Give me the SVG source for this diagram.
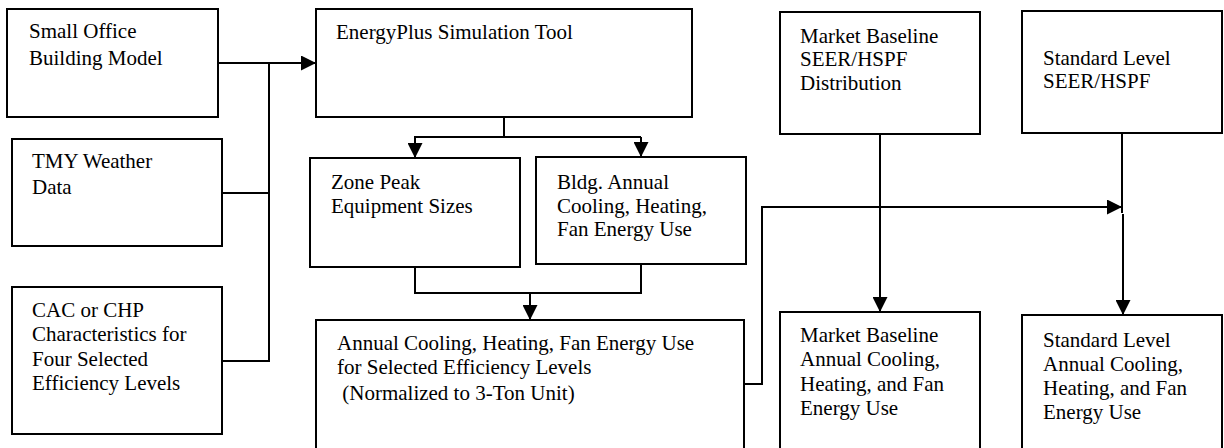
<svg xmlns="http://www.w3.org/2000/svg" width="1224" height="448" viewBox="0 0 1224 448">
<defs>
<marker id="ah" viewBox="0 0 10 10" refX="10" refY="5" markerWidth="7.5" markerHeight="7.5" markerUnits="strokeWidth" orient="auto">
<path d="M0,0 L10,5 L0,10 Z" fill="#000"/>
</marker>
<style>
.box{fill:#fff;stroke:#000;stroke-width:2}
.t{font-family:'Liberation Serif','Times New Roman','DejaVu Serif',serif;font-size:21px;fill:#000}
.c{fill:none;stroke:#000;stroke-width:2}
.a{marker-end:url(#ah)}
</style>
</defs>
<rect width="1224" height="448" fill="#fff"/>
<g id="n1"><rect class="box" x="7" y="9" width="211" height="108"/><text class="t" font-family="Liberation Serif"><tspan x="29" y="38">Small Office</tspan><tspan x="29" y="65">Building Model</tspan></text></g>
<g id="n2"><rect class="box" x="12" y="139" width="210" height="107"/><text class="t"><tspan x="32" y="168">TMY Weather</tspan><tspan x="32" y="194">Data</tspan></text></g>
<g id="n3"><rect class="box" x="12" y="287" width="210" height="147"/><text class="t"><tspan x="32" y="317">CAC or CHP</tspan><tspan x="32" y="341">Characteristics for</tspan><tspan x="32" y="366">Four Selected</tspan><tspan x="32" y="390">Efficiency Levels</tspan></text></g>
<g id="n4"><rect class="box" x="316" y="9" width="376" height="108"/><text class="t" x="336" y="39">EnergyPlus Simulation Tool</text></g>
<g id="n5"><rect class="box" x="310" y="158" width="210" height="109"/><text class="t"><tspan x="331" y="189">Zone Peak</tspan><tspan x="331" y="213">Equipment Sizes</tspan></text></g>
<g id="n6"><rect class="box" x="536" y="157" width="210" height="107"/><text class="t"><tspan x="557" y="189">Bldg. Annual</tspan><tspan x="557" y="213">Cooling, Heating,</tspan><tspan x="557" y="236">Fan Energy Use</tspan></text></g>
<g id="n7"><rect class="box" x="316" y="320" width="428" height="140"/><text class="t"><tspan x="337" y="350">Annual Cooling, Heating, Fan Energy Use</tspan><tspan x="337" y="374">for Selected Efficiency Levels</tspan><tspan x="337" y="400" xml:space="preserve"> (Normalized to 3-Ton Unit)</tspan></text></g>
<g id="n8"><rect class="box" x="780" y="12" width="200" height="122"/><text class="t"><tspan x="800" y="43">Market Baseline</tspan><tspan x="800" y="66">SEER/HSPF</tspan><tspan x="800" y="90">Distribution</tspan></text></g>
<g id="n9"><rect class="box" x="1022" y="11" width="200" height="122"/><text class="t"><tspan x="1043" y="65">Standard Level</tspan><tspan x="1043" y="88">SEER/HSPF</tspan></text></g>
<g id="n10"><rect class="box" x="780" y="312" width="200" height="150"/><text class="t"><tspan x="800" y="342">Market Baseline</tspan><tspan x="800" y="366">Annual Cooling,</tspan><tspan x="800" y="391">Heating, and Fan</tspan><tspan x="800" y="415">Energy Use</tspan></text></g>
<g id="n11"><rect class="box" x="1022" y="315" width="200" height="150"/><text class="t"><tspan x="1043" y="347">Standard Level</tspan><tspan x="1043" y="371">Annual Cooling,</tspan><tspan x="1043" y="395">Heating, and Fan</tspan><tspan x="1043" y="419">Energy Use</tspan></text></g>
<g id="connectors">
<path class="c a" d="M218,63 H316"/>
<path class="c" d="M222,193 H269 M222,361 H269 V63"/>
<path class="c" d="M504,117 V137 H641"/>
<path class="c a" d="M504,137 H415 V158"/>
<path class="c a" d="M641,137 V157"/>
<path class="c" d="M415,267 V293 H641 V264"/>
<path class="c a" d="M530,293 V320"/>
<path class="c a" d="M744,384 H762 V207 H1122"/>
<path class="c a" d="M880,134 V312"/>
<path class="c" d="M1122,133 V213"/>
<path class="c a" d="M1123,214 V315"/>
</g>
</svg>
